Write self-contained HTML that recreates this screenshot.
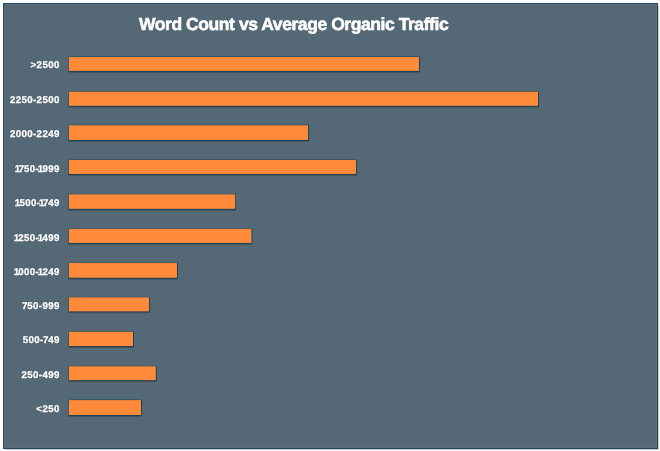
<!DOCTYPE html>
<html><head><meta charset="utf-8"><title>Word Count vs Average Organic Traffic</title>
<style>
html,body{margin:0;padding:0;background:#fff;}
body{width:660px;height:451px;position:relative;overflow:hidden;font-family:"Liberation Sans",sans-serif;}
.p{position:absolute;left:3px;top:3px;width:653px;height:444px;background:#556875;border:1px solid #234a5c;box-shadow:0.5px 0.5px 1px rgba(0,0,0,0.22), inset 0 0 0 1px rgba(255,255,255,0.05);}
.t{position:absolute;left:139px;top:11.7px;width:311px;white-space:nowrap;color:#fff;font-weight:bold;font-size:17.5px;line-height:24px;letter-spacing:-0.43px;text-rendering:geometricPrecision;-webkit-text-stroke:0.55px #fff;}
.l{position:absolute;left:0;width:59.7px;text-align:right;color:#fff;font-weight:bold;font-size:9.7px;letter-spacing:0.38px;text-rendering:geometricPrecision;-webkit-text-stroke:0.3px #fff;line-height:20px;height:20px;white-space:nowrap;text-shadow:0 0.3px 1px rgba(10,40,60,0.55);}

.o{margin:0 -1.2px 0 -1.4px;}
.s{margin:0 -0.6px;}
svg{position:absolute;left:0;top:0;}
</style></head><body>
<div class="p"></div>
<div class="t">Word Count vs Average Organic Traffic</div>
<svg width="660" height="451" viewBox="0 0 660 451">
<defs><filter id="s" x="-5%" y="-50%" width="110%" height="200%"><feDropShadow dx="0" dy="0.8" stdDeviation="0.45" flood-color="#000" flood-opacity="0.35"/></filter></defs>
<g fill="#103f55" filter="url(#s)">
<rect x="68.5" y="56.65" width="351.25" height="15.00"/>
<rect x="68.5" y="91.30" width="470.25" height="15.25"/>
<rect x="68.5" y="124.90" width="240.25" height="15.80"/>
<rect x="68.5" y="159.55" width="288.25" height="15.15"/>
<rect x="68.5" y="193.90" width="167.45" height="15.65"/>
<rect x="68.5" y="228.45" width="183.75" height="15.25"/>
<rect x="68.5" y="262.45" width="109.25" height="16.05"/>
<rect x="68.5" y="296.90" width="81.25" height="15.25"/>
<rect x="68.5" y="331.35" width="65.25" height="15.50"/>
<rect x="68.5" y="365.90" width="88.05" height="15.05"/>
<rect x="68.5" y="399.70" width="73.25" height="16.05"/>
</g>
<g fill="#ff8a3a">
<rect x="68.85" y="57.05" width="350.15" height="13.85"/>
<rect x="68.85" y="91.70" width="469.15" height="14.10"/>
<rect x="68.85" y="125.30" width="239.15" height="14.65"/>
<rect x="68.85" y="159.95" width="287.15" height="14.00"/>
<rect x="68.85" y="194.30" width="166.35" height="14.50"/>
<rect x="68.85" y="228.85" width="182.65" height="14.10"/>
<rect x="68.85" y="262.85" width="108.15" height="14.90"/>
<rect x="68.85" y="297.30" width="80.15" height="14.10"/>
<rect x="68.85" y="331.75" width="64.15" height="14.35"/>
<rect x="68.85" y="366.30" width="86.95" height="13.90"/>
<rect x="68.85" y="400.10" width="72.15" height="14.90"/>
</g>
</svg>
<div class="l" style="top:56px">&gt;2500</div>
<div class="l" style="top:91px">2250-2500</div>
<div class="l" style="top:125px">2000-2249</div>
<div class="l" style="top:160px"><span class="o">1</span><span class="s">7</span>50-<span class="o">1</span>999</div>
<div class="l" style="top:194px"><span class="o">1</span>500-<span class="o">1</span><span class="s">7</span>49</div>
<div class="l" style="top:229px"><span class="o">1</span>250-<span class="o">1</span>499</div>
<div class="l" style="top:263px"><span class="o">1</span>000-<span class="o">1</span>249</div>
<div class="l" style="top:297px"><span class="s">7</span>50-999</div>
<div class="l" style="top:331px">500-<span class="s">7</span>49</div>
<div class="l" style="top:366px">250-499</div>
<div class="l" style="top:400px">&lt;250</div>
</body></html>
